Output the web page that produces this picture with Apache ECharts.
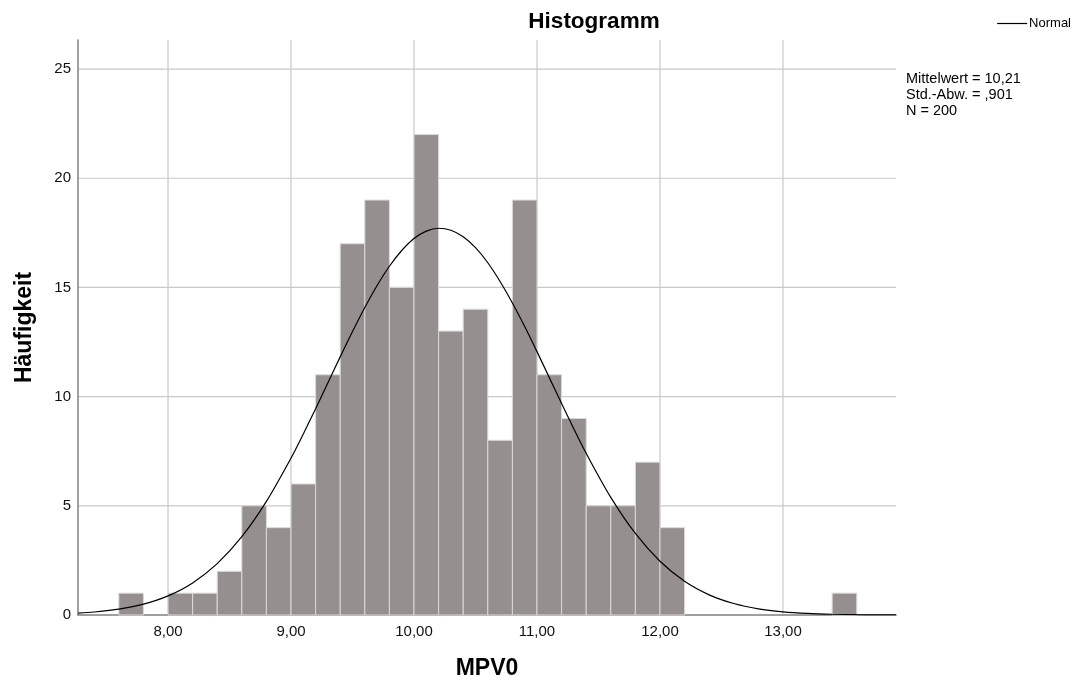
<!DOCTYPE html>
<html><head><meta charset="utf-8">
<script src="https://cdn.jsdelivr.net/npm/echarts@6/dist/echarts.min.js"></script>
<style>html,body{margin:0;padding:0;background:#fff}#c{width:1079px;height:686px}</style>
</head><body><div id="c"></div>
<script>
// Histogram bins (lower edges) and counts
const binStarts = [7.6, 8.0, 8.2, 8.4, 8.6, 8.8, 9.0, 9.2, 9.4, 9.6, 9.8, 10.0, 10.2, 10.4, 10.6, 10.8, 11.0, 11.2, 11.4, 11.6, 11.8, 12.0, 13.4];
const counts    = [1,   1,   1,   2,   5,   4,   6,   11,  17,  19,  15,  22,   13,   14,   8,    19,   11,   9,    5,    5,    7,    4,    1];
const binWidth = 0.2;
// Normal curve points
const curveX = [7.27, 7.4, 7.6, 7.8, 8.0, 8.2, 8.4, 8.6, 8.8, 9.0, 9.1, 9.2, 9.3, 9.4, 9.5, 9.6, 9.7, 9.8, 9.9, 10.0, 10.1, 10.2, 10.3, 10.4, 10.5, 10.6, 10.7, 10.8, 10.9, 11.0, 11.1, 11.2, 11.3, 11.4, 11.6, 11.8, 12.0, 12.2, 12.4, 12.6, 12.8, 13.0, 13.2, 13.4, 13.6, 13.8, 13.92];
const curveY = [0.086, 0.137, 0.267, 0.495, 0.875, 1.47, 2.354, 3.588, 5.205, 7.187, 8.292, 9.448, 10.63, 11.82, 12.98, 14.08, 15.09, 15.97, 16.69, 17.24, 17.58, 17.71, 17.62, 17.32, 16.82, 16.13, 15.27, 14.29, 13.21, 12.06, 10.87, 9.684, 8.52, 7.403, 5.387, 3.733, 2.462, 1.545, 0.923, 0.525, 0.284, 0.147, 0.072, 0.034, 0.015, 0.006, 0.003];
const xTicks = [8, 9, 10, 11, 12, 13];
const yTicks = [5, 10, 15, 20, 25];
const statLines = ['Mittelwert = 10,21', 'Std.-Abw. = ,901', 'N = 200'];

const font = '"Liberation Sans", Arial, sans-serif';
const X_MIN = 7.268, X_MAX = 13.919, Y_MAX = 26.33;
const chart = echarts.init(document.getElementById('c'), null, {renderer: 'canvas'});
const barData = binStarts.map((s, i) => [s, s + binWidth, counts[i]]);
// grid line data: [orientation (0 = vertical, 1 = horizontal), value]
const gridData = xTicks.map(v => [0, v]).concat(yTicks.map(v => [1, v]));

chart.setOption({
  animation: false,
  title: {text: 'Histogramm', left: 589, top: 5, textAlign: 'center',
    textStyle: {fontFamily: font, fontSize: 22.5, fontWeight: 'bold', color: '#000'}},
  legend: {data: [{name: 'Normal', icon: 'rect'}], right: 3, top: 12, itemWidth: 30, itemHeight: 1.2, itemGap: 4,
    textStyle: {fontFamily: font, fontSize: 13, color: '#000', padding: [0, 0, 0, -3]}},
  graphic: [{type: 'text', left: 906, top: 71,
    style: {text: statLines.join('\n'), font: '14.5px ' + font, fill: '#000', lineHeight: 16}}],
  grid: {left: 78, right: 183, top: 40, bottom: 71},
  xAxis: {type: 'value', min: X_MIN, max: X_MAX, name: 'MPV0', nameLocation: 'middle', nameGap: 42,
    nameTextStyle: {fontFamily: font, fontSize: 23, fontWeight: 'bold', color: '#000', verticalAlign: 'top'},
    axisLine: {lineStyle: {color: '#808080', width: 1.5}}, axisTick: {show: false}, splitLine: {show: false},
    axisLabel: {customValues: xTicks, margin: 9, fontFamily: font, fontSize: 15, color: '#111',
      formatter: v => v.toFixed(2).replace('.', ',')}},
  yAxis: {type: 'value', min: 0, max: Y_MAX, name: 'Häufigkeit', nameLocation: 'middle', nameGap: 42,
    nameTextStyle: {fontFamily: font, fontSize: 23, fontWeight: 'bold', color: '#000'},
    axisLine: {show: true, lineStyle: {color: '#808080', width: 1.5}}, axisTick: {show: false}, splitLine: {show: false},
    axisLabel: {customValues: [0].concat(yTicks), margin: 7, fontFamily: font, fontSize: 15, color: '#111'}},
  series: [
    {type: 'custom', name: 'grid', silent: true, z: 0, data: gridData,
      renderItem: (params, api) => {
        const o = api.value(0), v = api.value(1);
        const a = o === 0 ? api.coord([v, 0]) : api.coord([X_MIN, v]);
        const b = o === 0 ? api.coord([v, Y_MAX]) : api.coord([X_MAX, v]);
        return {type: 'line', shape: {x1: a[0], y1: a[1], x2: b[0], y2: b[1]},
          style: {stroke: '#c9c9c9', lineWidth: 1.2}};
      }},
    {type: 'custom', name: 'bars', z: 2, data: barData, encode: {x: [0, 1], y: 2},
      renderItem: (params, api) => {
        const p0 = api.coord([api.value(0), api.value(2)]);
        const p1 = api.coord([api.value(1), 0]);
        return {type: 'rect', shape: {x: p0[0], y: p0[1], width: p1[0] - p0[0], height: p1[1] - p0[1]},
          style: {fill: '#958f8f', stroke: '#dcdada', lineWidth: 1}};
      }},
    {type: 'line', name: 'Normal', z: 3, smooth: 0.3, symbol: 'none', showSymbol: false,
      data: curveX.map((x, i) => [x, curveY[i]]), lineStyle: {color: '#000', width: 1.2}, itemStyle: {color: '#000'}}
  ]
});
</script></body></html>
